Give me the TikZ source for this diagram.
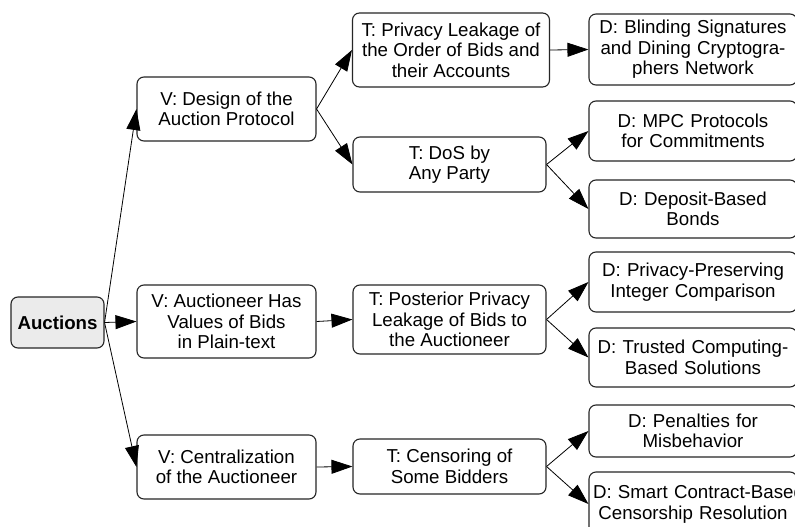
\documentclass[tikz,border=0pt]{standalone}
\usepackage{fontspec}
\setmainfont{Liberation Sans}
\usetikzlibrary{arrows.meta}
\begin{document}
\begin{tikzpicture}[x=1pt,y=-1pt,
  box/.style={draw=black!85, line width=1.1pt, rounded corners=7pt,
    align=center, inner sep=3pt,
    font=\fontsize{18.7pt}{20.5pt}\selectfont},
  vbox/.style={box, minimum width=179pt},
  tbox/.style={box, minimum width=193pt},
  dbox/.style={box, text width=200pt, inner sep=4pt},
  arr/.style={-{Triangle[length=21pt,width=14pt]}, line width=0.8pt, draw=black}]
\clip (0,0) rectangle (795,527);
\fill[white] (0,0) rectangle (795,527);

% root
\node[box, fill=black!8, minimum width=93pt, minimum height=51pt,
  font=\fontsize{18.7pt}{20.5pt}\selectfont\bfseries] (auc) at (57.5,322.5) {Auctions};

% vulnerabilities
\node[vbox, minimum height=64pt] (v1) at (226.5,109) {V: Design of the\\Auction Protocol};
\node[vbox, minimum height=73pt] (v2) at (226.5,321.5) {V: Auctioneer Has\\Values of Bids\\in Plain-text};
\node[vbox, minimum height=64pt] (v3) at (226.5,467) {V: Centralization\\of the Auctioneer};

% threats
\node[box, minimum width=197pt, minimum height=74pt] (t1) at (451,50) {T: Privacy Leakage of\\the Order of Bids and\\their Accounts};
\node[tbox, minimum height=55pt] (t2) at (449.5,164.5) {T: DoS by\\Any Party};
\node[tbox, minimum height=69pt] (t3) at (449.5,319.5) {T: Posterior Privacy\\Leakage of Bids to\\the Auctioneer};
\node[tbox, minimum height=55pt] (t4) at (449.5,466.5) {T: Censoring of\\Some Bidders};

% defenses
\node[dbox, minimum height=71pt] (d1) at (693,49.5) {D: Blinding Signatures\\and Dining Cryptogra-\\phers Network};
\node[dbox, minimum height=60pt] (d2) at (693,131) {D: MPC Protocols\\for Commitments};
\node[dbox, minimum height=58pt] (d3) at (693,209) {D: Deposit-Based\\Bonds};
\node[dbox, minimum height=60pt] (d4) at (693,282) {D: Privacy-Preserving\\Integer Comparison};
\node[dbox, minimum height=59pt] (d5) at (693,357.5) {D: Trusted Computing-\\Based Solutions};
\node[dbox, minimum height=52pt] (d6) at (693,431) {D: Penalties for\\Misbehavior};
\node[dbox, minimum height=64pt] (d7) at (693,504) {\hbox{D: Smart Contract-Based}\\Censorship Resolution};

% connectors
\draw[arr] (auc.east) -- (v1.west);
\draw[arr] (auc.east) -- (v2.west);
\draw[arr] (auc.east) -- (v3.west);
\draw[arr] (v1.east) -- (t1.west);
\draw[arr] (v1.east) -- (t2.west);
\draw[arr] (v2.east) -- (t3.west);
\draw[arr] (v3.east) -- (t4.west);
\draw[arr] (t1.east) -- (d1.west);
\draw[arr] (t2.east) -- (d2.west);
\draw[arr] (t2.east) -- (d3.west);
\draw[arr] (t3.east) -- (d4.west);
\draw[arr] (t3.east) -- (d5.west);
\draw[arr] (t4.east) -- (d6.west);
\draw[arr] (t4.east) -- (d7.west);
\end{tikzpicture}
\end{document}
